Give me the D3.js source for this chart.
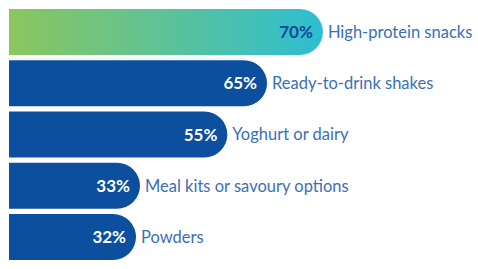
<!DOCTYPE html>
<html>
<head>
<meta charset="utf-8">
<script src="https://cdn.jsdelivr.net/npm/d3@7"></script>
<style>
  body { margin: 0; background: #fff; }
  text { font-family: Lato, 'Open Sans', sans-serif; }
</style>
</head>
<body>
<div id="chart"></div>
<script>
let categories = ['High-protein snacks', 'Ready-to-drink shakes', 'Yoghurt or dairy', 'Meal kits or savoury options', 'Powders']
let values = [70, 65, 55, 33, 32]
let valueLabels = ['70%', '65%', '55%', '33%', '32%']

let width = 478
let height = 269
let left = 9
// first bar is drawn a bit longer in the original (highlight)
let highlightExtra = 36

let svg = d3
  .select('#chart')
  .append('svg')
  .attr('width', width)
  .attr('height', height)

let defs = svg.append('defs')
let grad = defs
  .append('linearGradient')
  .attr('id', 'hl')
  .attr('x1', '0%')
  .attr('x2', '100%')
grad.append('stop').attr('offset', '0%').attr('stop-color', '#8cc65e')
grad.append('stop').attr('offset', '100%').attr('stop-color', '#2dbed2')

let xPositionScale = d3.scaleLinear().domain([0, 100]).range([0, 397])
let yPositionScale = d3
  .scaleBand()
  .domain(categories)
  .range([9, 260])
  .paddingInner(0.1)

let data = categories.map((c, i) => ({ name: c, value: values[i], label: valueLabels[i], i: i }))

function barWidth(d) {
  return xPositionScale(d.value) + (d.i === 0 ? highlightExtra : 0)
}

function barPath(d) {
  let h = yPositionScale.bandwidth()
  let r = h / 2
  let w = barWidth(d)
  let y = yPositionScale(d.name)
  return 'M' + left + ',' + y +
    'H' + (left + w - r) +
    'A' + r + ',' + r + ' 0 0 1 ' + (left + w - r) + ',' + (y + h) +
    'H' + left + 'Z'
}

// faint shadow under the highlighted bar
svg
  .append('line')
  .attr('x1', left)
  .attr('x2', left + 236)
  .attr('y1', yPositionScale(categories[0]) + yPositionScale.bandwidth() + 3.5)
  .attr('y2', yPositionScale(categories[0]) + yPositionScale.bandwidth() + 3.5)
  .attr('stroke', '#e6f2f0')
  .attr('stroke-width', 1)

svg
  .selectAll('.bar')
  .data(data)
  .enter()
  .append('path')
  .attr('class', 'bar')
  .attr('d', barPath)
  .attr('fill', d => (d.i === 0 ? 'url(#hl)' : '#0c4f9e'))

svg
  .selectAll('.value')
  .data(data)
  .enter()
  .append('text')
  .attr('class', 'value')
  .attr('x', d => left + barWidth(d) - 10)
  .attr('y', d => yPositionScale(d.name) + yPositionScale.bandwidth() / 2)
  .attr('dy', '0.36em')
  .attr('text-anchor', 'end')
  .attr('font-size', 17)
  .attr('font-weight', 'bold')
  .attr('fill', d => (d.i === 0 ? '#10489a' : '#ffffff'))
  .text(d => d.label)

svg
  .selectAll('.name')
  .data(data)
  .enter()
  .append('text')
  .attr('class', 'name')
  .attr('x', d => left + barWidth(d) + 5)
  .attr('y', d => yPositionScale(d.name) + yPositionScale.bandwidth() / 2)
  .attr('dy', '0.36em')
  .attr('font-size', 16.5)
  .attr('fill', '#3a6fb8')
  .text(d => d.name)
</script>
</body>
</html>
